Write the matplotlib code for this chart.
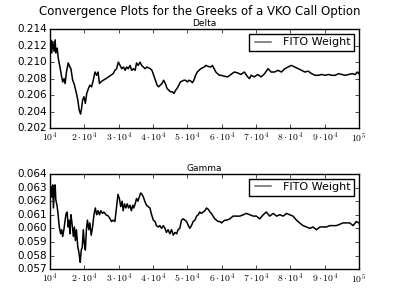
import matplotlib
matplotlib.use("Agg")
import matplotlib.pyplot as plt
from matplotlib.ticker import FixedLocator, FixedFormatter

plt.style.use("classic")
plt.rcParams["mathtext.fontset"] = "cm"
plt.rcParams["font.family"] = ["DejaVu Sans"]

# sample counts in thousands
delta_n = [10.0, 10.2, 10.5, 10.8, 11.2, 11.5, 11.7, 12.1, 12.4, 12.9, 13.4, 13.7, 14.1, 14.4,
           14.8, 15.3, 15.8, 16.1, 16.6, 17.0, 17.6, 18.1, 18.5, 18.9, 19.2, 19.5, 19.9, 20.3,
           20.7, 21.2, 21.6, 22.1, 22.6, 23.1, 23.6, 24.0, 24.4, 24.8, 25.5, 26.3, 27.0, 27.7,
           28.4, 28.9, 29.4, 29.9, 30.4, 30.9, 31.4, 31.9, 32.3, 32.8, 33.3, 33.8, 34.3, 34.8,
           35.2, 35.7, 36.2, 36.7, 37.2, 37.7, 38.2, 39.2, 39.7, 40.2, 40.7, 41.2, 41.6, 42.1,
           42.6, 43.1, 43.6, 44.1, 44.6, 45.1, 45.6, 46.1, 46.6, 47.0, 47.5, 48.0, 48.5, 49.0,
           49.5, 50.0, 50.5, 51.0, 51.5, 51.9, 52.4, 52.9, 53.4, 53.9, 54.9, 55.4, 55.9, 56.8,
           57.3, 57.8, 58.3, 58.8, 59.3, 59.8, 60.8, 61.7, 62.7, 63.7, 64.6, 65.6, 66.6, 67.6,
           68.1, 68.6, 69.5, 70.5, 71.5, 72.5, 73.5, 74.4, 75.4, 76.4, 77.4, 78.4, 79.3, 80.3,
           81.3, 82.3, 83.3, 84.2, 85.2, 86.2, 87.2, 88.2, 89.1, 90.1, 91.1, 92.1, 93.1, 94.0,
           95.0, 96.0, 97.0, 98.0, 98.9, 99.5, 100.0]
delta_v = [0.2115, 0.2127, 0.2111, 0.2125, 0.2113, 0.2127, 0.2111, 0.2117, 0.2105, 0.2094, 0.2082,
           0.2076, 0.2080, 0.2074, 0.2088, 0.2099, 0.2094, 0.2092, 0.2078, 0.2074, 0.2064, 0.2054,
           0.2042, 0.2037, 0.2044, 0.2054, 0.2058, 0.2050, 0.2062, 0.2068, 0.2072, 0.2070, 0.2078,
           0.2088, 0.2084, 0.2088, 0.2074, 0.2076, 0.2078, 0.2080, 0.2082, 0.2084, 0.2086, 0.2090,
           0.2092, 0.2100, 0.2096, 0.2092, 0.2094, 0.2090, 0.2094, 0.2092, 0.2096, 0.2090, 0.2092,
           0.2090, 0.2099, 0.2096, 0.2100, 0.2096, 0.2094, 0.2092, 0.2094, 0.2092, 0.2090, 0.2084,
           0.2078, 0.2072, 0.2070, 0.2072, 0.2074, 0.2078, 0.2074, 0.2068, 0.2066, 0.2064, 0.2064,
           0.2062, 0.2066, 0.2068, 0.2072, 0.2076, 0.2077, 0.2078, 0.2078, 0.2076, 0.2078, 0.2077,
           0.2075, 0.2078, 0.2084, 0.2088, 0.2090, 0.2092, 0.2094, 0.2096, 0.2095, 0.2094, 0.2096,
           0.2092, 0.2088, 0.2086, 0.2084, 0.2084, 0.2083, 0.2082, 0.2085, 0.2088, 0.2087, 0.2085,
           0.2088, 0.2082, 0.2080, 0.2084, 0.2082, 0.2085, 0.2082, 0.2086, 0.2092, 0.2088, 0.2088,
           0.2090, 0.2088, 0.2092, 0.2094, 0.2096, 0.2094, 0.2092, 0.2090, 0.2088, 0.2089, 0.2086,
           0.2084, 0.2084, 0.2085, 0.2084, 0.2085, 0.2084, 0.2084, 0.2086, 0.2085, 0.2084, 0.2085,
           0.2086, 0.2085, 0.2088, 0.2086]

gamma_n = [10.0, 10.2, 10.5, 10.8, 11.0, 11.3, 11.5, 11.7, 12.1, 12.4, 12.7, 13.1, 13.4, 13.7,
           14.1, 14.4, 14.7, 15.0, 15.3, 15.6, 15.8, 16.1, 16.4, 16.8, 17.1, 17.4, 17.7, 18.1,
           18.3, 18.6, 18.8, 19.1, 19.4, 19.7, 20.0, 20.3, 20.6, 20.9, 21.3, 21.6, 22.0, 22.4,
           22.8, 23.2, 23.6, 24.0, 24.4, 24.8, 25.3, 25.7, 26.3, 27.0, 27.5, 27.9, 28.4, 28.9,
           29.4, 29.8, 30.2, 30.6, 31.0, 31.3, 31.7, 32.1, 32.5, 32.9, 33.3, 33.7, 34.1, 34.4,
           34.8, 35.2, 35.6, 36.0, 36.4, 36.8, 37.2, 37.6, 38.1, 38.6, 39.1, 39.6, 40.1, 40.6,
           41.0, 41.5, 42.0, 42.5, 43.0, 43.5, 43.9, 44.4, 44.9, 45.4, 45.9, 46.4, 46.9, 47.3,
           47.8, 48.3, 48.8, 49.3, 49.8, 50.3, 50.7, 51.2, 51.7, 52.2, 52.7, 53.2, 53.6, 54.1,
           54.6, 55.1, 55.6, 56.1, 56.6, 57.0, 57.5, 58.0, 58.5, 59.0, 59.5, 60.0, 60.4, 60.9,
           61.4, 62.4, 63.3, 64.3, 65.3, 66.3, 67.2, 68.2, 69.2, 70.1, 71.1, 72.1, 73.0, 74.0,
           75.0, 76.0, 76.9, 77.9, 78.9, 79.8, 80.8, 81.8, 82.7, 83.7, 84.7, 85.7, 86.6, 87.6,
           88.6, 89.5, 90.5, 91.5, 92.4, 93.4, 94.4, 95.4, 96.3, 97.3, 98.3, 99.2, 100.0]
gamma_v = [0.0626, 0.0631, 0.0623, 0.0632, 0.0615, 0.0628, 0.0632, 0.0621, 0.0616, 0.0609, 0.0601,
           0.0596, 0.0599, 0.0594, 0.0600, 0.0606, 0.0611, 0.0612, 0.0601, 0.0606, 0.0596, 0.0610,
           0.0604, 0.0594, 0.0601, 0.0591, 0.0599, 0.0586, 0.0584, 0.0579, 0.0575, 0.0584, 0.0586,
           0.0599, 0.0589, 0.0584, 0.0599, 0.0606, 0.0599, 0.0604, 0.0595, 0.0601, 0.0610, 0.0615,
           0.0610, 0.0613, 0.0610, 0.0613, 0.0611, 0.0612, 0.0610, 0.0609, 0.0607, 0.0605, 0.0606,
           0.0605, 0.0616, 0.0625, 0.0622, 0.0616, 0.0620, 0.0613, 0.0618, 0.0615, 0.0618, 0.0615,
           0.0617, 0.0613, 0.0617, 0.0615, 0.0618, 0.0622, 0.0620, 0.0623, 0.0626, 0.0625, 0.0623,
           0.0620, 0.0617, 0.0616, 0.0615, 0.0610, 0.0606, 0.0605, 0.0602, 0.0601, 0.0602, 0.0600,
           0.0602, 0.0600, 0.0597, 0.0599, 0.0596, 0.0599, 0.0595, 0.0597, 0.0596, 0.0599, 0.0600,
           0.0606, 0.0607, 0.0606, 0.0605, 0.0602, 0.0600, 0.0602, 0.0605, 0.0606, 0.0609, 0.0610,
           0.0612, 0.0611, 0.0612, 0.0613, 0.0615, 0.0614, 0.0612, 0.0611, 0.0609, 0.0607, 0.0606,
           0.0605, 0.0605, 0.0604, 0.0605, 0.0606, 0.0606, 0.0607, 0.0609, 0.0609, 0.0609, 0.0610,
           0.0611, 0.0610, 0.0609, 0.0609, 0.0607, 0.0610, 0.0612, 0.0609, 0.0611, 0.0609, 0.0610,
           0.0609, 0.0611, 0.0610, 0.0609, 0.0606, 0.0604, 0.0602, 0.0601, 0.0600, 0.0601, 0.0599,
           0.0601, 0.0601, 0.0601, 0.0602, 0.0602, 0.0602, 0.0603, 0.0604, 0.0604, 0.0604, 0.0602,
           0.0605, 0.0604]

x_ticks = [10000, 20000, 30000, 40000, 50000, 60000, 70000, 80000, 90000, 100000]
x_labels = [r"$10^4$", r"$2\cdot10^4$", r"$3\cdot10^4$", r"$4\cdot10^4$", r"$5\cdot10^4$",
            r"$6\cdot10^4$", r"$7\cdot10^4$", r"$8\cdot10^4$", r"$9\cdot10^4$", r"$10^5$"]
delta_yticks = [0.202, 0.204, 0.206, 0.208, 0.210, 0.212, 0.214]
gamma_yticks = [0.057, 0.058, 0.059, 0.060, 0.061, 0.062, 0.063, 0.064]

fig = plt.figure(figsize=(4, 3), dpi=100, facecolor="white")
fig.text(0.5, 0.96, "Convergence Plots for the Greeks of a VKO Call Option",
         fontsize=8.5, ha="center", va="center")

ax1 = fig.add_axes([0.125, 0.573, 0.7725, 0.330])
ax2 = fig.add_axes([0.125, 0.103, 0.7725, 0.317])

for ax, n, v, yt, fmt, title in [
    (ax1, delta_n, delta_v, delta_yticks, "%.3f", "Delta"),
    (ax2, gamma_n, gamma_v, gamma_yticks, "%.3f", "Gamma"),
]:
    ax.set_facecolor("white")
    ax.plot([k * 1000 for k in n], v, color="black", lw=1.1, label="FITO Weight")
    ax.set_xlim(10000, 100000)
    ax.set_ylim(yt[0], yt[-1])
    ax.xaxis.set_major_locator(FixedLocator(x_ticks))
    ax.xaxis.set_major_formatter(FixedFormatter(x_labels))
    ax.set_yticks(yt)
    ax.set_yticklabels([fmt % t for t in yt])
    ax.tick_params(axis="x", labelsize=7, pad=2, length=3)
    ax.tick_params(axis="y", labelsize=7.5, pad=2, length=3)
    ax.set_title(title, fontsize=6.5, pad=2)
    leg = ax.legend(loc="upper right", fontsize=8, fancybox=False, borderaxespad=0.45,
                    handlelength=2.0, borderpad=0.3)
    leg.get_lines()[0].set_color("0.4")

fig.savefig("out.png", dpi=100, facecolor="white")
